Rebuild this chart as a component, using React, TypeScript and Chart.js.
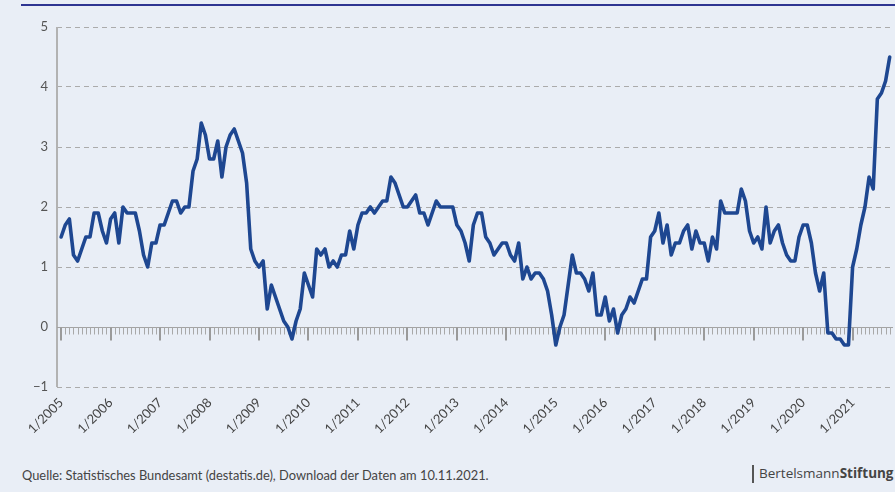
import React, { useEffect, useRef } from "react";
import { Chart, registerables } from "chart.js";

Chart.register(...registerables);

// Year tick labels (one major tick every January)
const years = [2005, 2006, 2007, 2008, 2009, 2010, 2011, 2012, 2013, 2014, 2015, 2016, 2017, 2018, 2019, 2020, 2021];
const tickLabels = years.map((y) => `1/${y}`);

// Monthly year-on-year change of consumer prices, in percent
const v2005 = [1.5, 1.7, 1.8, 1.2, 1.1, 1.3, 1.5, 1.5, 1.9, 1.9, 1.6, 1.4];
const v2006 = [1.8, 1.9, 1.4, 2.0, 1.9, 1.9, 1.9, 1.6, 1.2, 1.0, 1.4, 1.4];
const v2007 = [1.7, 1.7, 1.9, 2.1, 2.1, 1.9, 2.0, 2.0, 2.6, 2.8, 3.4, 3.2];
const v2008 = [2.8, 2.8, 3.1, 2.5, 3.0, 3.2, 3.3, 3.1, 2.9, 2.4, 1.3, 1.1];
const v2009 = [1.0, 1.1, 0.3, 0.7, 0.5, 0.3, 0.1, 0.0, -0.2, 0.1, 0.3, 0.9];
const v2010 = [0.7, 0.5, 1.3, 1.2, 1.3, 1.0, 1.1, 1.0, 1.2, 1.2, 1.6, 1.3];
const v2011 = [1.7, 1.9, 1.9, 2.0, 1.9, 2.0, 2.1, 2.1, 2.5, 2.4, 2.2, 2.0];
const v2012 = [2.0, 2.1, 2.2, 1.9, 1.9, 1.7, 1.9, 2.1, 2.0, 2.0, 2.0, 2.0];
const v2013 = [1.7, 1.6, 1.4, 1.1, 1.7, 1.9, 1.9, 1.5, 1.4, 1.2, 1.3, 1.4];
const v2014 = [1.4, 1.2, 1.1, 1.4, 0.8, 1.0, 0.8, 0.9, 0.9, 0.8, 0.6, 0.2];
const v2015 = [-0.3, 0.0, 0.2, 0.7, 1.2, 0.9, 0.9, 0.8, 0.6, 0.9, 0.2, 0.2];
const v2016 = [0.5, 0.1, 0.3, -0.1, 0.2, 0.3, 0.5, 0.4, 0.6, 0.8, 0.8, 1.5];
const v2017 = [1.6, 1.9, 1.4, 1.7, 1.2, 1.4, 1.4, 1.6, 1.7, 1.3, 1.6, 1.4];
const v2018 = [1.4, 1.1, 1.5, 1.3, 2.1, 1.9, 1.9, 1.9, 1.9, 2.3, 2.1, 1.6];
const v2019 = [1.4, 1.5, 1.3, 2.0, 1.4, 1.6, 1.7, 1.4, 1.2, 1.1, 1.1, 1.5];
const v2020 = [1.7, 1.7, 1.4, 0.9, 0.6, 0.9, -0.1, -0.1, -0.2, -0.2, -0.3, -0.3];
const v2021 = [1.0, 1.3, 1.7, 2.0, 2.5, 2.3, 3.8, 3.9, 4.1, 4.5];

const inflation = [
  ...v2005, ...v2006, ...v2007, ...v2008, ...v2009, ...v2010, ...v2011, ...v2012, ...v2013,
  ...v2014, ...v2015, ...v2016, ...v2017, ...v2018, ...v2019, ...v2020, ...v2021,
];

const yTicks = [-1, 0, 1, 2, 3, 4, 5];

const BG = "#e9eef6";
const LINE = "#1e4791";

const zeroAxisPlugin = {
  id: "zeroAxis",
  beforeDatasetsDraw(chart: any) {
    const { ctx, chartArea, scales } = chart;
    const x = scales.x;
    const y = scales.y;
    const y0 = Math.round(y.getPixelForValue(0)) + 0.5;
    ctx.save();
    // solid y-axis line
    ctx.strokeStyle = "#b2b2b2";
    ctx.lineWidth = 2;
    ctx.beginPath();
    ctx.moveTo(chartArea.left, chartArea.top);
    ctx.lineTo(chartArea.left, chartArea.bottom);
    ctx.stroke();
    // zero line with monthly ticks
    ctx.strokeStyle = "#a3a3a3";
    ctx.lineWidth = 1;
    ctx.beginPath();
    ctx.moveTo(chartArea.left, y0);
    ctx.lineTo(chartArea.right, y0);
    ctx.stroke();
    for (let i = 0; i < inflation.length; i++) {
      const major = i % 12 === 0;
      const px = Math.round(x.getPixelForValue(i)) + (major ? 0 : 0.5);
      ctx.lineWidth = major ? 2 : 1;
      ctx.strokeStyle = major ? "#9a9a9a" : "#a8a8a8";
      ctx.beginPath();
      ctx.moveTo(px, y0);
      ctx.lineTo(px, y0 + (major ? 13 : 7));
      ctx.stroke();
    }
    ctx.restore();
  },
};

export default function App() {
  const ref = useRef<HTMLCanvasElement | null>(null);

  useEffect(() => {
    if (!ref.current) return;
    const chart = new Chart(ref.current, {
      type: "line",
      data: {
        datasets: [
          {
            data: inflation.map((v, i) => ({ x: i, y: v })),
            borderColor: LINE,
            borderWidth: 3.6,
            pointRadius: 0,
            tension: 0,
            borderJoinStyle: "round",
            borderCapStyle: "round",
          },
        ],
      },
      options: {
        animation: false,
        responsive: false,
        layout: { padding: { top: 27, right: 2, left: 0, bottom: 0 } },
        plugins: { legend: { display: false }, tooltip: { enabled: false } },
        scales: {
          x: {
            type: "linear",
            min: -1,
            max: 201.8,
            afterBuildTicks: (scale: any) => {
              scale.ticks = years.map((_, k) => ({ value: k * 12 }));
            },
            afterFit: (scale: any) => {
              scale.height = 63;
            },
            grid: { display: false, drawTicks: false },
            border: { display: false },
            ticks: {
              autoSkip: false,
              maxRotation: 45,
              minRotation: 45,
              padding: 8,
              color: "#444",
              font: { family: "Lato", size: 13 },
              callback: (v: any) => tickLabels[Math.round(Number(v) / 12)] ?? "",
            },
          },
          y: {
            min: -1,
            max: 5,
            afterBuildTicks: (scale: any) => {
              scale.ticks = yTicks.map((v) => ({ value: v }));
            },
            afterFit: (scale: any) => {
              scale.width = 57;
            },
            grid: {
              drawTicks: false,
              color: (c: any) => (c.tick && c.tick.value === 0 ? "rgba(0,0,0,0)" : "#ababab"),
              lineWidth: 1,
            },
            border: { display: false, dash: [5, 4] as any },
            ticks: {
              padding: 9,
              color: "#555",
              font: { family: "Lato", size: 13 },
              callback: (v: any) => String(v).replace("-", "\u2212"),
            },
          },
        },
      },
      plugins: [zeroAxisPlugin],
    });
    return () => chart.destroy();
  }, []);

  return (
    <div
      style={{
        position: "fixed",
        left: 0,
        top: 0,
        width: 895,
        height: 492,
        background: BG,
        overflow: "hidden",
        fontFamily: "Lato, sans-serif",
      }}
    >
      <div style={{ position: "absolute", left: 21, top: 4, width: 874, height: 2, background: "#2e3592" }} />
      <canvas ref={ref} width={895} height={450} style={{ position: "absolute", left: 0, top: 0 }} />
      <div
        style={{
          position: "absolute",
          left: 22,
          top: 467,
          fontSize: 12.85,
          lineHeight: "16px",
          color: "#444",
          whiteSpace: "nowrap",
        }}
      >
        Quelle: Statistisches Bundesamt (destatis.de), Download der Daten am 10.11.2021.
      </div>
      <div
        style={{
          position: "absolute",
          left: 752,
          top: 465,
          width: 1.5,
          height: 18,
          background: "#555",
        }}
      />
      <div
        style={{
          position: "absolute",
          left: 759,
          top: 464,
          fontSize: 13.5,
          lineHeight: "19px",
          color: "#444",
          whiteSpace: "nowrap",
          fontFamily: "'Open Sans', sans-serif",
        }}
      >
        Bertelsmann<b style={{ fontWeight: 700 }}>Stiftung</b>
      </div>
    </div>
  );
}
